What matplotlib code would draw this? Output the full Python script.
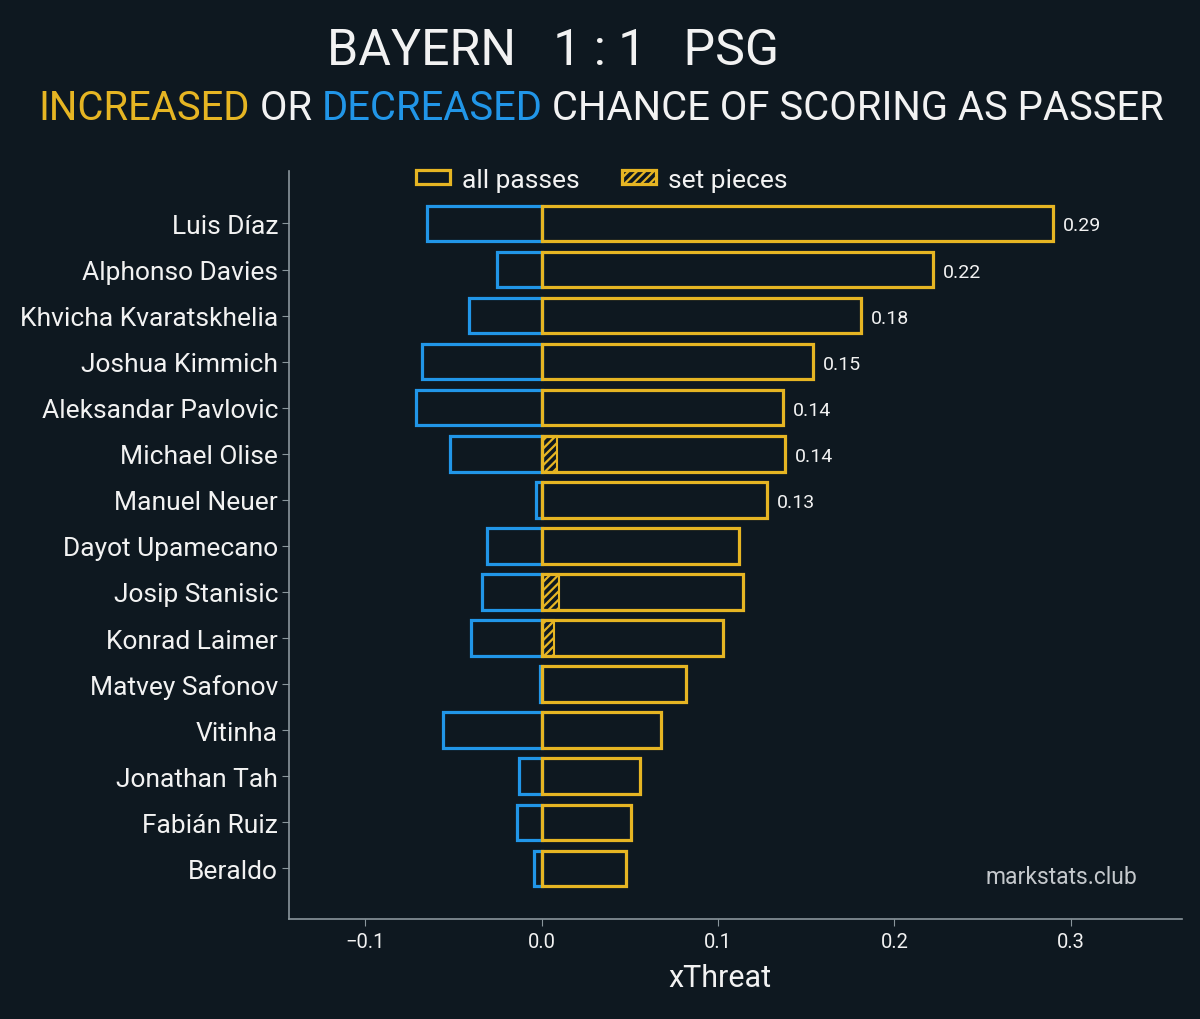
import numpy as np
import matplotlib
matplotlib.use("Agg")
import matplotlib.pyplot as plt
from matplotlib.patches import Patch

plt.rcParams['font.family'] = ['Roboto', 'DejaVu Sans']
plt.rcParams['hatch.linewidth'] = 1.6

# data
players = ["Luis Díaz", "Alphonso Davies", "Khvicha Kvaratskhelia", "Joshua Kimmich",
           "Aleksandar Pavlovic", "Michael Olise", "Manuel Neuer", "Dayot Upamecano",
           "Josip Stanisic", "Konrad Laimer", "Matvey Safonov", "Vitinha",
           "Jonathan Tah", "Fabián Ruiz", "Beraldo"]
increased = [0.290, 0.222, 0.181, 0.154, 0.137, 0.138, 0.128, 0.112,
             0.114, 0.103, 0.082, 0.068, 0.056, 0.051, 0.048]
decreased = [-0.065, -0.025, -0.041, -0.068, -0.071, -0.052, -0.003, -0.031,
             -0.034, -0.040, -0.001, -0.056, -0.013, -0.014, -0.004]
set_pieces = [0, 0, 0, 0, 0, 0.009, 0, 0, 0.010, 0.007, 0, 0, 0, 0, 0]
n_labelled = 7

BG = "#0e1820"
YELLOW = "#e6b523"
BLUE = "#2196e8"
TXT = "#f2f2f2"
GRID = "#8a969c"

fig = plt.figure(figsize=(12, 10.2), dpi=100, facecolor=BG)
ax = fig.add_axes([0.241, 0.098, 0.744, 0.733])
ax.set_facecolor(BG)

y = np.arange(len(players))
h = 0.77
ax.barh(y, decreased, height=h, facecolor="none", edgecolor=BLUE, linewidth=2.3)
ax.barh(y, increased, height=h, facecolor="none", edgecolor=YELLOW, linewidth=2.3)
ax.barh(y, set_pieces, height=h, facecolor="none", edgecolor=YELLOW, linewidth=1.5, hatch="////")

for i in range(n_labelled):
    ax.text(increased[i] + 0.0055, y[i], f"{increased[i]:.2f}", color=TXT,
            fontsize=14, va="center_baseline", ha="left")

ax.set_xlim(-0.143, 0.363)
ax.set_ylim(len(players) - 1 + 1.1, -1.13)
ax.set_yticks(y)
ax.set_yticklabels(players)
ax.set_xticks([-0.1, 0.0, 0.1, 0.2, 0.3])
ax.set_xticklabels(["\u22120.1", "0.0", "0.1", "0.2", "0.3"])
ax.tick_params(axis="y", colors=GRID, labelcolor=TXT, labelsize=19, length=5, pad=3)
ax.tick_params(axis="x", colors=GRID, labelcolor=TXT, labelsize=14.5, length=5, pad=4)
for s in ["top", "right"]:
    ax.spines[s].set_visible(False)
for s in ["left", "bottom"]:
    ax.spines[s].set_color(GRID)
    ax.spines[s].set_linewidth(1.2)

ax.set_xlabel("xThreat", color=TXT, fontsize=22, labelpad=9, x=0.483)

ax.text(0.95, 0.057, "markstats.club", transform=ax.transAxes, color="#c4c8cc",
        fontsize=16.5, ha="right", va="center")

handles = [Patch(facecolor="none", edgecolor=YELLOW, linewidth=2.3, label="all passes"),
           Patch(facecolor="none", edgecolor=YELLOW, linewidth=2.3, hatch="////", label="set pieces")]
leg = ax.legend(handles=handles, loc="center", bbox_to_anchor=(0.35, 0.989), ncol=2,
                frameon=False, fontsize=19, handlelength=1.3, handleheight=0.45,
                columnspacing=1.6, handletextpad=0.45, labelcolor=TXT)

fig.text(553 / 1200, 1 - 51 / 1020, "BAYERN   1 : 1   PSG", color=TXT, fontsize=36,
         ha="center", va="center")

# subtitle with coloured words, sized to span 38..1163 px
parts = [("INCREASED", YELLOW), (" OR ", TXT), ("DECREASED", BLUE),
         (" CHANCE OF SCORING AS PASSER", TXT)]
renderer = fig.canvas.get_renderer()
probe = fig.text(0, 0, "".join(p[0] for p in parts), fontsize=30)
full_w = probe.get_window_extent(renderer=renderer).width
probe.remove()
fs = 30 * 1125 / full_w
xpos = 38 / 1200
for word, col in parts:
    t = fig.text(xpos, 1 - 108 / 1020, word, color=col, fontsize=fs, ha="left", va="center")
    bb = t.get_window_extent(renderer=renderer)
    xpos += bb.width / fig.bbox.width

fig.savefig("out.png", dpi=100, facecolor=BG)
